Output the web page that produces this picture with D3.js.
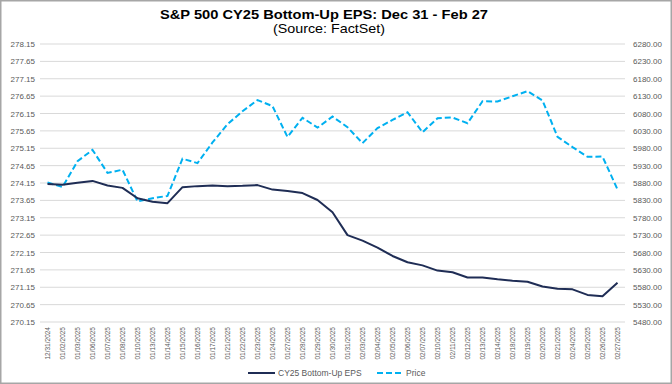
<!DOCTYPE html>
<html>
<head>
<meta charset="utf-8">
<script src="https://cdn.jsdelivr.net/npm/d3@7"></script>
<style>
  body { margin: 0; background: #fff; }
  svg { font-family: "Liberation Sans", Arial, sans-serif; }
</style>
</head>
<body>
<div id="chart"></div>
<script>
const dates = ["12/31/2024","01/02/2025","01/03/2025","01/06/2025","01/07/2025","01/08/2025","01/10/2025",
  "01/13/2025","01/14/2025","01/15/2025","01/16/2025","01/17/2025","01/21/2025","01/22/2025","01/23/2025",
  "01/24/2025","01/27/2025","01/28/2025","01/29/2025","01/30/2025","01/31/2025","02/03/2025","02/04/2025",
  "02/05/2025","02/06/2025","02/07/2025","02/10/2025","02/11/2025","02/12/2025","02/13/2025","02/14/2025",
  "02/18/2025","02/19/2025","02/20/2025","02/21/2025","02/24/2025","02/25/2025","02/26/2025","02/27/2025"];

const eps = [274.12,274.10,274.16,274.21,274.08,274.01,273.71,273.61,273.57,274.03,274.06,274.08,274.06,
  274.07,274.09,273.96,273.92,273.86,273.66,273.31,272.65,272.49,272.29,272.05,271.87,271.78,271.63,
  271.58,271.43,271.43,271.38,271.34,271.31,271.17,271.11,271.09,270.93,270.89,271.28];

const price = [5881.6,5868.6,5942.5,5975.4,5909.0,5918.3,5827.0,5836.2,5842.9,5949.9,5937.3,5996.7,6049.2,
  6086.4,6118.7,6101.2,6012.3,6067.7,6039.3,6071.2,6040.5,5994.6,6037.9,6061.5,6083.6,6026.0,6066.4,
  6068.5,6052.0,6115.1,6114.6,6129.6,6144.2,6117.5,6013.1,5983.3,5955.3,5956.1,5861.6];

const epsTicks = d3.range(0, 17).map(i => 270.15 + i * 0.5);
const priceTicks = d3.range(0, 17).map(i => 5480 + i * 50);

const W = 672, H = 384;
const margin = { top: 44, bottom: 62, left: 40, right: 47 };

const svg = d3.select("#chart").append("svg")
  .attr("width", W)
  .attr("height", H);

svg.append("rect")
  .attr("x", 0.75).attr("y", 0.75)
  .attr("width", W - 1.5).attr("height", H - 1.5)
  .attr("fill", "#fff")
  .attr("stroke", "#a6a6a6")
  .attr("stroke-width", 1.5);

const x = d3.scalePoint().domain(dates).range([margin.left, W - margin.right]).padding(0.5);
const yL = d3.scaleLinear().domain([270.15, 278.15]).range([H - margin.bottom, margin.top]);
const yR = d3.scaleLinear().domain([5480, 6280]).range([H - margin.bottom, margin.top]);

// gridlines
svg.append("g")
  .selectAll("line")
  .data(epsTicks)
  .enter()
  .append("line")
  .attr("x1", margin.left)
  .attr("x2", W - margin.right)
  .attr("y1", d => yL(d))
  .attr("y2", d => yL(d))
  .attr("stroke", "#d9d9d9")
  .attr("stroke-width", 1);

// left axis
const leftAxis = d3.axisLeft(yL).tickValues(epsTicks).tickFormat(d3.format(".2f")).tickSize(0).tickPadding(5);
svg.append("g")
  .attr("transform", `translate(${margin.left},0)`)
  .call(leftAxis)
  .call(g => g.select(".domain").remove())
  .selectAll("text")
  .attr("font-size", 8)
  .attr("fill", "#595959");

// right axis
const rightAxis = d3.axisRight(yR).tickValues(priceTicks).tickFormat(d3.format(".2f")).tickSize(0).tickPadding(8);
svg.append("g")
  .attr("transform", `translate(${W - margin.right},0)`)
  .call(rightAxis)
  .call(g => g.select(".domain").remove())
  .selectAll("text")
  .attr("font-size", 8)
  .attr("fill", "#595959");

// x axis
const xAxis = d3.axisBottom(x).tickSize(0).tickPadding(0);
svg.append("g")
  .attr("transform", `translate(0,${H - margin.bottom})`)
  .call(xAxis)
  .call(g => g.select(".domain").remove())
  .selectAll("text")
  .attr("font-size", 6.5)
  .attr("fill", "#595959")
  .attr("text-anchor", "end")
  .attr("transform", "rotate(-90)")
  .attr("x", -5)
  .attr("y", 0)
  .attr("dy", "0.35em");

// lines
const epsLine = d3.line().x((d, i) => x(dates[i])).y(d => yL(d));
const priceLine = d3.line().x((d, i) => x(dates[i])).y(d => yR(d));

svg.append("path")
  .datum(price)
  .attr("d", priceLine)
  .attr("fill", "none")
  .attr("stroke", "#00b0f0")
  .attr("stroke-width", 2)
  .attr("stroke-dasharray", "6,3");

svg.append("path")
  .datum(eps)
  .attr("d", epsLine)
  .attr("fill", "none")
  .attr("stroke", "#1f2d55")
  .attr("stroke-width", 2)
  .attr("stroke-linejoin", "round");

// title
svg.append("text")
  .attr("x", 324).attr("y", 19)
  .attr("text-anchor", "middle")
  .attr("font-size", 13)
  .attr("font-weight", "bold")
  .attr("textLength", 328)
  .attr("lengthAdjust", "spacingAndGlyphs")
  .text("S&P 500 CY25 Bottom-Up EPS: Dec 31 - Feb 27");

svg.append("text")
  .attr("x", 329).attr("y", 33)
  .attr("text-anchor", "middle")
  .attr("font-size", 13)
  .attr("textLength", 112)
  .attr("lengthAdjust", "spacingAndGlyphs")
  .text("(Source: FactSet)");

// legend
const legend = svg.append("g").attr("transform", "translate(248,373)");
legend.append("line")
  .attr("x1", 0).attr("x2", 27).attr("y1", 0).attr("y2", 0)
  .attr("stroke", "#1f2d55").attr("stroke-width", 2);
legend.append("text")
  .attr("x", 30).attr("y", 0).attr("dy", "0.35em")
  .attr("font-size", 8.5).attr("fill", "#595959")
  .text("CY25 Bottom-Up EPS");
legend.append("line")
  .attr("x1", 129).attr("x2", 154).attr("y1", 0).attr("y2", 0)
  .attr("stroke", "#00b0f0").attr("stroke-width", 2)
  .attr("stroke-dasharray", "6,3");
legend.append("text")
  .attr("x", 158).attr("y", 0).attr("dy", "0.35em")
  .attr("font-size", 8.5).attr("fill", "#595959")
  .text("Price");
</script>
</body>
</html>
